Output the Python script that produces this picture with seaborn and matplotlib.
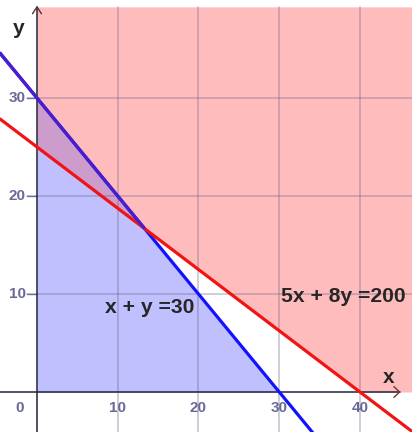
import numpy as np
import pandas as pd
import matplotlib
matplotlib.use("Agg")
import matplotlib.pyplot as plt
import seaborn as sns

# ---- data ----
line_labels = ["x + y =30", "5x + 8y =200"]
coef_x = [1, 5]
coef_y = [1, 8]
rhs = [30, 200]
x_tick_values = [0, 10, 20, 30, 40]
y_tick_values = [10, 20, 30]

sns.set_style("white")
plt.rcParams['font.family'] = ['Liberation Sans', 'DejaVu Sans']

fig = plt.figure(figsize=(4.12, 4.32), dpi=100)
ax = fig.add_axes([0, 0, 1, 1])
XMIN, XMAX = -4.58, 46.44
YMIN, YMAX = -4.08, 40.0
YTOP = 39.3
ax.set_xlim(XMIN, XMAX)
ax.set_ylim(YMIN, YMAX)
ax.set_axis_off()

def line_y(i, x):
    return (rhs[i] - coef_x[i] * x) / coef_y[i]

# ---- feasible-region fills (first quadrant) ----
xs = np.linspace(0, XMAX, 1200)
blue = line_y(0, xs)
red = line_y(1, xs)
pink_low = np.clip(np.maximum(red, blue), 0, YTOP)
ax.fill_between(xs, pink_low, YTOP, color='#ffbcbc', lw=0, zorder=1)
blue_up = np.clip(np.minimum(blue, red), 0, None)
ax.fill_between(xs, 0, blue_up, color='#c0c0ff', lw=0, zorder=1)
ax.fill_between(xs, np.clip(red, 0, None), np.clip(blue, 0, None), where=blue > red,
                color='#cc9ccc', lw=0, interpolate=True, zorder=1)

# ---- grid ----
grid_col = (0.42, 0.38, 0.52)
for v in x_tick_values[1:]:
    ax.plot([v, v], [YMIN, YTOP], color=grid_col, alpha=0.4, lw=1.1, zorder=2)
for v in y_tick_values:
    ax.plot([-1.24, XMAX], [v, v], color=grid_col, alpha=0.4, lw=1.1, zorder=2)
    ax.plot([-1.24, 0], [v, v], color='#7070a0', lw=1.0, zorder=2)

# ---- axes with arrows ----
axis_col = '#22223a'
ax.plot([0, 0], [YMIN, YTOP], color=axis_col, lw=1.1, zorder=3)
ax.plot([XMIN, 44.9], [0, 0], color=axis_col, lw=1.1, zorder=3)
ax.plot([-0.55, 0, 0.55], [38.6, 39.3, 38.6], color='#553333', lw=1.0, zorder=3)
ax.plot([44.2, 44.9, 44.2], [0.55, 0, -0.55], color='#773333', lw=1.0, zorder=3)

# ---- constraint lines ----
xl = np.array([XMIN, XMAX])
df = pd.DataFrame({
    'x': np.concatenate([xl, xl]),
    'y': np.concatenate([line_y(0, xl), line_y(1, xl)]),
    'line': [line_labels[0]] * 2 + [line_labels[1]] * 2,
})
sns.lineplot(data=df, x='x', y='y', hue='line',
             palette={line_labels[0]: '#1212ff', line_labels[1]: '#f01414'},
             legend=False, lw=2.3, ax=ax, zorder=4)
# part of x+y=30 lying above 5x+8y=200 appears purple
x_int = (rhs[0] * coef_y[1] - rhs[1] * coef_y[0]) / (coef_x[0] * coef_y[1] - coef_x[1] * coef_y[0])
xp = np.array([XMIN, x_int])
ax.plot(xp, line_y(0, xp), color='#4a1ecc', lw=2.3, zorder=5, solid_capstyle='butt')
ax.set_xlim(XMIN, XMAX)
ax.set_ylim(YMIN, YMAX)
ax.set_axis_off()

# ---- tick labels ----
tick_col = '#6a6a98'
for v in x_tick_values:
    xpos = -2.1 if v == 0 else v
    ax.text(xpos, -1.63, str(v), ha='center', va='center', fontsize=11,
            fontweight='bold', color=tick_col, zorder=6)
for v in y_tick_values:
    ax.text(-2.45, v, str(v), ha='center', va='center', fontsize=11,
            fontweight='bold', color=tick_col, zorder=6)

# ---- axis names and equation labels ----
ax.text(-2.23, 37.1, "y", ha='center', va='center', fontsize=15, fontweight='bold', zorder=6)
ax.text(43.5, 1.45, "x", ha='center', va='center', fontsize=15, fontweight='bold', zorder=6)
ax.text(8.42, 8.06, line_labels[0], ha='left', va='baseline', fontsize=15.2,
        fontweight='bold', zorder=6)
ax.text(30.18, 9.2, line_labels[1], ha='left', va='baseline', fontsize=15.2,
        fontweight='bold', zorder=6)

fig.savefig("out.png", dpi=100)
